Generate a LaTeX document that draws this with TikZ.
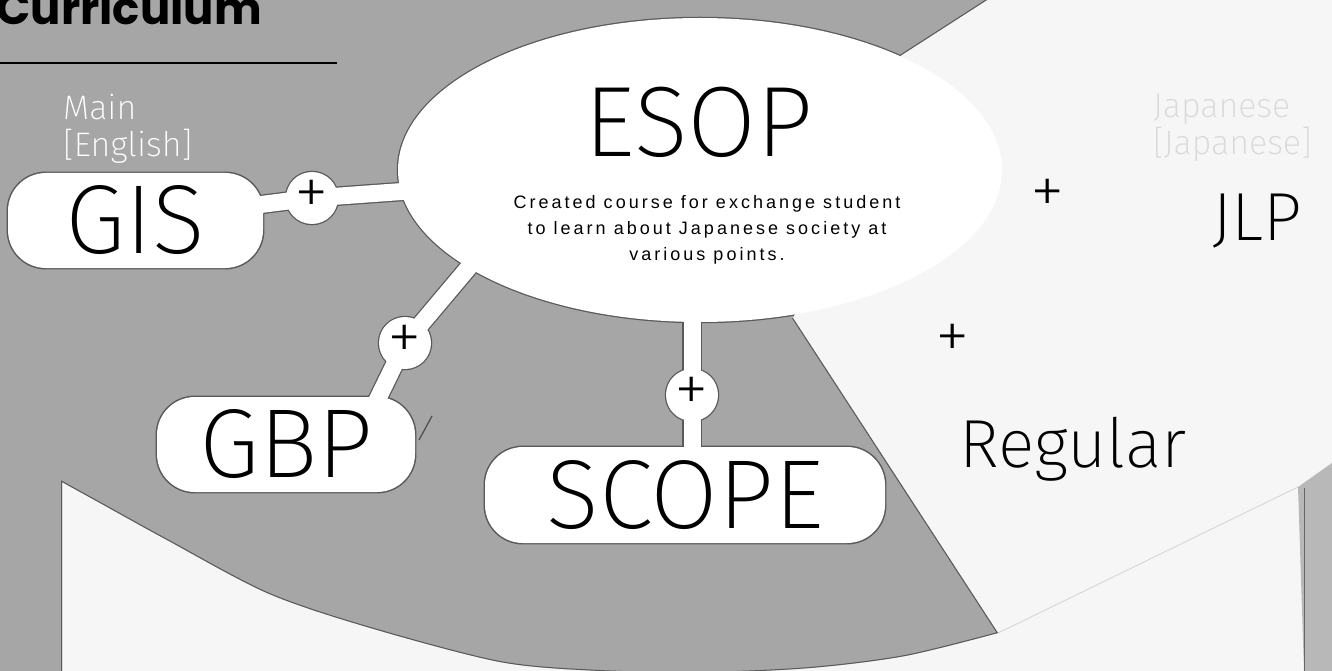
\documentclass[tikz,border=0pt]{standalone}
\usepackage{fontspec}
\setmainfont{Liberation Sans}
\newfontfamily\thinf{Fira Sans ExtraLight}
\newfontfamily\descf{Liberation Sans}[LetterSpace=16.8]
\newfontfamily\titlef{Poppins}
\usetikzlibrary{shapes.geometric}
\pgfdeclarelayer{back}
\pgfdeclarelayer{links}
\pgfsetlayers{back,links,main}
\definecolor{midgray}{gray}{0.65}
\definecolor{lightbg}{gray}{0.965}
\definecolor{rimcolor}{gray}{0.35}
\tikzset{
  whiteshape/.style={fill=white, inner sep=0pt},
  pill/.style={whiteshape, rectangle, rounded corners=38pt, font=\thinf\fontsize{98}{98}\selectfont},
  plusnode/.style={whiteshape, circle, minimum size=52pt, font=\thinf\fontsize{70}{70}\selectfont},
  plainplus/.style={inner sep=0pt, font=\thinf\fontsize{70}{70}\selectfont},
  band/.style={draw=white, line width=17pt},
  bandrim/.style={draw=rimcolor, line width=19.5pt},
  rim/.style={draw=rimcolor, line width=2.5pt},
  faint/.style={draw=black!16, line width=0.9pt}
}
\def\grayregionpath{(0,0) -- (987,0) -- (900,56) -- (793,318) -- (998,633)
  -- plot[smooth] coordinates {(998,633) (905,656) (810,668) (700,673) (600,671) (500,662) (367,627) (267,593) (167,540) (100,503) (62,482)}
  -- (62,671) -- (0,671) -- cycle}
\def\grayedgepath{(987,0) -- (900,56) (793,318) -- (998,633)
  -- plot[smooth] coordinates {(998,633) (905,656) (810,668) (700,673) (600,671) (500,662) (367,627) (267,593) (167,540) (100,503) (62,482)}
  -- (62,671)}
\begin{document}
\begin{tikzpicture}[x=1pt,y=-1pt]
\useasboundingbox (0,0) rectangle (1332,671);

% ---------- nodes ----------
\node[whiteshape, ellipse, minimum width=604pt, minimum height=304pt] (esop) at (700,170) {};
\node[anchor=base, inner sep=0pt, font=\thinf\fontsize{100}{100}\selectfont] (esoptitle) at (699,157) {ESOP};
\node[anchor=north, inner sep=0pt, align=center, font=\descf\fontsize{18}{26}\selectfont] (esopdesc) at (707,195)
  {Created course for exchange student\\to learn about Japanese society at\\various points.};

\node[pill, minimum width=255pt, minimum height=95pt] (gis) at (135.5,220.5) {GIS};
\node[pill, minimum width=258pt, minimum height=95pt] (gbp) at (286,444.5) {GBP};
\node[pill, minimum width=400pt, minimum height=96pt] (scope) at (685,495) {SCOPE};

\node[plusnode] (p1) at (312,198) {+};
\node[plusnode] (p2) at (405,343) {+};
\node[plusnode] (p3) at (692,395) {+};
\node[plainplus] (p4) at (1048,197) {+};
\node[plainplus] (p5) at (953,342) {+};

\node[anchor=base, inner sep=0pt, font=\thinf\fontsize{68}{68}\selectfont] (jlp) at (1257,240) {JLP};
\node[anchor=base, inner sep=0pt, font=\thinf\fontsize{68}{68}\selectfont] (regular) at (1073,467) {Regular};

\node[anchor=north west, inner sep=0pt, align=left, text=white, font=\thinf\fontsize{34}{37}\selectfont] (mainlang) at (63,94.5) {Main\\{[English]}};
\node[anchor=north west, inner sep=0pt, align=left, text=black!15, font=\thinf\fontsize{34}{37}\selectfont] (jplang) at (1153,94.5) {Japanese\\{[Japanese]}};

\node[anchor=base east, inner sep=0pt, font=\titlef\bfseries\fontsize{45}{45}\selectfont] (title) at (262,25) {Curriculum};

\coordinate (gbpin) at (365,425);
\coordinate (esin2) at (485,248);

% ---------- background ----------
\begin{pgfonlayer}{back}
  \fill[lightbg] (0,0) rectangle (1332,671);
  \fill[midgray] \grayregionpath;
  % right band
  \fill[black!28] (1298,487) -- (1332,463) -- (1332,671) -- (1304,671) -- cycle;
  \draw[black!60, line width=1pt] (1304,488) -- (1304,671);
  % faint edges in the light area
  \draw[faint] (998,633) -- (1298,487);
  \begin{scope}
    \clip \grayregionpath;
    \draw[rimcolor, line width=2pt] \grayedgepath;
    \draw[rim] (esop.center) ellipse [x radius=302, y radius=152];
    \draw[rim, rounded corners=38pt] (gis.north west) rectangle (gis.south east);
    \draw[rim, rounded corners=38pt] (gbp.north west) rectangle (gbp.south east);
    \draw[rim, rounded corners=38pt] (scope.north west) rectangle (scope.south east);
    \draw[rim] (p1) circle [radius=26];
    \draw[rim] (p2) circle [radius=26];
    \draw[rim] (p3) circle [radius=26];
    \draw[bandrim] (gis.center) -- (p1.center) -- (esop.center);
    \draw[bandrim] (gbpin) -- (p2.center) -- (esin2);
    \draw[bandrim] (p3 |- esop.center) -- (p3.center) -- (p3 |- scope.center);
  \end{scope}
  % small slash beside GBP
  \draw[black!70, line width=1.2pt] (432,416) -- (419,440);
  % title rule
  \draw[black, line width=2.5pt] (0,63) -- (337,63);
\end{pgfonlayer}

% ---------- connectors ----------
\begin{pgfonlayer}{links}
  \draw[band] (gis.center) -- (p1.center) -- (esop.center);
  \draw[band] (gbpin) -- (p2.center) -- (esin2);
  \draw[band] (p3 |- esop.center) -- (p3.center) -- (p3 |- scope.center);
\end{pgfonlayer}
\end{tikzpicture}
\end{document}
